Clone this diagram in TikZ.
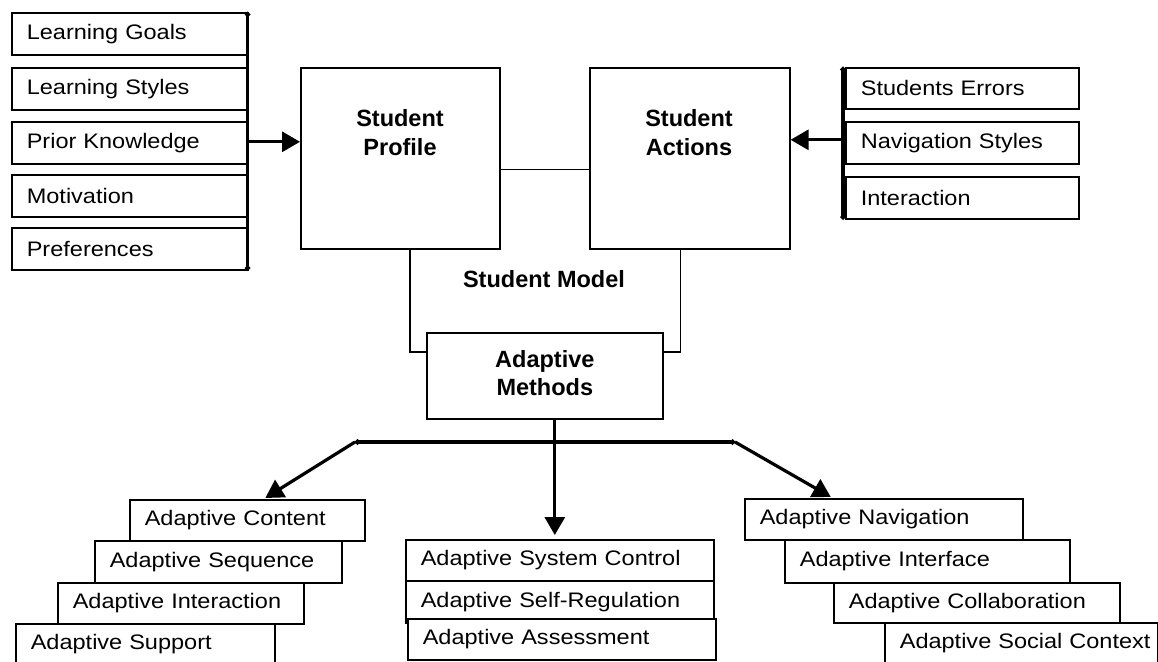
\documentclass[tikz,border=0pt]{standalone}
\usepackage{fontspec}
\setmainfont{Liberation Sans}
\newfontfamily\regfont[FakeStretch=1.12]{Liberation Sans}
\newfontfamily\boldfont{Liberation Sans Bold}
\usetikzlibrary{arrows.meta}
\newcommand\tb[6]{\pgfmathsetmacro\tbw{#4-30}%
  \node[tbox, text width=\tbw pt, minimum height=#5pt] (#1) at (#2,#3) {\mbox{#6}};}
\begin{document}
\begin{tikzpicture}[x=1pt,y=-1pt,
  tbox/.style={draw, fill=white, line width=1.6pt, inner xsep=15pt, inner ysep=0pt,
    align=left, anchor=north west, font=\regfont\fontsize{21}{25}\selectfont},
  bigbox/.style={draw, line width=1.6pt, anchor=north west, inner sep=0pt},
  btext/.style={font=\boldfont\fontsize{23.5}{29}\selectfont, align=center},
  thin/.style={line width=1.6pt},
  thick/.style={line width=3.2pt},
  arr/.style={thick, -{Triangle[length=18pt,width=20pt]}},
  bar/.style={thick, {Circle[length=5pt]}-{Circle[length=5pt]}}
]
\useasboundingbox (0,0) rectangle (1158,661);
\fill[white] (0,0) rectangle (1158,661);
\clip (0,0) rectangle (1158,661);

% left inputs
\tb{lg}{11}{12}{236}{42}{Learning Goals}
\tb{ls}{11}{67}{236}{42}{Learning Styles}
\tb{pk}{11}{121}{236}{42}{Prior Knowledge}
\tb{mo}{11}{174}{236}{42}{Motivation}
\tb{pr}{11}{227}{236}{42}{Preferences}

% right inputs
\tb{se}{845}{67}{233}{41}{Students Errors}
\tb{ns}{845}{121}{233}{42}{Navigation Styles}
\tb{ia}{845}{176}{233}{42}{Interaction}

% central boxes
\node[bigbox, minimum width=199pt, minimum height=181pt] (sp) at (300,67) {};
\node[bigbox, minimum width=200pt, minimum height=181pt] (sa) at (589,67) {};
\node[btext] (spt) at (400,133) {Student\\Profile};
\node[btext] (sat) at (689,133) {Student\\Actions};
\node[btext] (smt) at (544,279) {Student Model};
\node[bigbox, minimum width=236pt, minimum height=86pt, btext] (am) at (426,332) {\raisebox{5pt}{\begin{tabular}{@{}c@{}}Adaptive\\[-1pt]Methods\end{tabular}}};

% bars and arrows
\draw[bar] ([xshift=-1pt]lg.north east) -- ([xshift=-1pt]pr.south east);
\draw[arr] ([xshift=-1pt,yshift=1pt]pk.east) -- ([yshift=1pt]pk.east -| sp.west);
\draw[bar] ([xshift=-2pt]se.north west) -- ([xshift=-2pt]ia.south west);
\draw[arr] ([xshift=-2pt,yshift=3pt]ns.west) -- ([yshift=3pt]ns.west -| sa.east);

\draw[thin] ([yshift=-11pt]sp.east) -- ([yshift=-11pt]sa.west);
\draw[thin] ([xshift=9.5pt]sp.south) |- ([yshift=24pt]am.west);
\draw[thin] ([xshift=-9.5pt]sa.south) |- ([yshift=24pt]am.east);

% bottom outputs
\tb{ac}{129}{499}{235}{41}{Adaptive Content}
\tb{as}{94}{540}{247}{42}{Adaptive Sequence}
\tb{ai}{57}{582}{246}{41}{Adaptive Interaction}
\tb{asu}{15}{623}{259}{40}{Adaptive Support}

\tb{sc}{405}{539}{308}{41}{Adaptive System Control}
\tb{sr}{405}{580}{308}{42}{Adaptive Self-Regulation}
\tb{aa}{407}{618}{308}{41}{Adaptive Assessment}

\tb{an}{744}{498}{278}{41}{Adaptive Navigation}
\tb{ai2}{784}{539}{285}{43}{Adaptive Interface}
\tb{aco}{833}{582}{286}{40}{Adaptive Collaboration}
\tb{asc}{884}{622}{273}{40}{Adaptive Social Context}

\coordinate (hl) at (355,442);
\coordinate (hr) at (735,442);
\draw[bar] (hl) -- (hr);
\draw[arr] ([xshift=10pt]am.south) -- ([xshift=-5pt,yshift=4pt]sc.north);
\draw[arr] (hl) -- ([xshift=18pt,yshift=1pt]ac.north);
\draw[arr] (hr) -- ([xshift=-53pt,yshift=1pt]an.north);
\end{tikzpicture}
\end{document}
